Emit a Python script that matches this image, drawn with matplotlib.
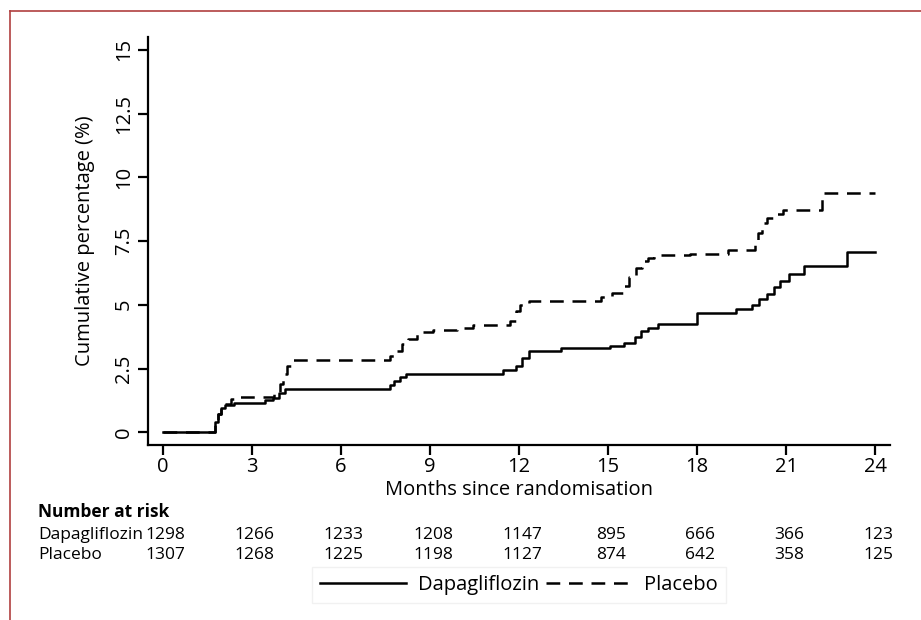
import matplotlib
matplotlib.use("Agg")
import matplotlib.pyplot as plt
from matplotlib.lines import Line2D
import matplotlib.transforms as mtransforms

plt.rcParams['font.family'] = ['Open Sans', 'DejaVu Sans']

# ---- data ----
dapa_t = [0, 1.75, 1.85, 1.95, 2.1, 2.4, 3.45, 3.7, 3.9, 4.1, 7.65, 7.8, 8.0, 8.2,
          11.45, 11.9, 12.1, 12.35, 13.4, 15.05, 15.55, 15.9, 16.1, 16.35, 16.7, 18.0,
          19.3, 19.85, 20.1, 20.35, 20.6, 20.8, 21.1, 21.6, 23.05, 24.0]
dapa_v = [0, 0.4, 0.7, 0.95, 1.05, 1.15, 1.25, 1.35, 1.55, 1.7, 1.85, 2.0, 2.15, 2.3,
          2.45, 2.6, 2.9, 3.18, 3.3, 3.4, 3.5, 3.72, 3.98, 4.1, 4.25, 4.66,
          4.83, 5.0, 5.22, 5.42, 5.7, 5.94, 6.22, 6.52, 7.05, 7.05]

plac_t = [0, 1.75, 1.85, 1.95, 2.1, 2.3, 2.5, 3.75, 3.95, 4.05, 4.2, 4.4, 7.65, 7.85,
          8.05, 8.25, 8.55, 9.1, 9.9, 10.45, 11.7, 11.9, 12.05, 12.35, 14.75, 15.15,
          15.5, 15.72, 15.95, 16.15, 16.35, 16.55, 17.75, 19.05, 19.95, 20.05, 20.2,
          20.35, 20.6, 20.9, 22.2, 24.0]
plac_v = [0, 0.4, 0.7, 0.95, 1.1, 1.3, 1.4, 1.5, 1.9, 2.3, 2.6, 2.84, 3.0, 3.2,
          3.45, 3.65, 3.92, 4.0, 4.1, 4.22, 4.35, 4.77, 5.0, 5.15, 5.29, 5.48,
          5.74, 6.07, 6.46, 6.72, 6.85, 6.95, 6.98, 7.13, 7.5, 7.8, 8.2,
          8.4, 8.55, 8.7, 9.4, 9.4]

x_ticks = [0, 3, 6, 9, 12, 15, 18, 21, 24]
y_ticks = [0, 2.5, 5, 7.5, 10, 12.5, 15]
y_tick_labels = ['0', '2.5', '5', '7.5', '10', '12.5', '15']

risk_groups = ['Dapagliflozin', 'Placebo']
risk_dapa = [1298, 1266, 1233, 1208, 1147, 895, 666, 366, 123]
risk_plac = [1307, 1268, 1225, 1198, 1127, 874, 642, 358, 125]

W, H = 921, 620
fig = plt.figure(figsize=(W / 100, H / 100), dpi=100)
ax = fig.add_axes([148 / W, 1 - 445 / H, (890 - 148) / W, (445 - 37) / H])

l1, = ax.plot(dapa_t, dapa_v, drawstyle='steps-post', color='black', lw=1.8)
l2, = ax.plot(plac_t, plac_v, drawstyle='steps-post', color='black', lw=1.8,
              linestyle=(0, (5.5, 3.5)))

ax.set_xlim(-0.5, 24.5)
ax.set_ylim(-0.5, 15.5)
ax.set_xticks(x_ticks)
ax.set_xticklabels([str(t) for t in x_ticks])
ax.set_yticks(y_ticks)
ax.set_yticklabels(y_tick_labels)
for lab in ax.get_yticklabels():
    lab.set_rotation(90)
    lab.set_va('center')
ax.spines['top'].set_visible(False)
ax.spines['right'].set_visible(False)
for s in ['left', 'bottom']:
    ax.spines[s].set_linewidth(1.6)
ax.tick_params(axis='both', length=7, width=1.6, labelsize=14.5, pad=1.5)
ax.tick_params(axis='y', pad=3)

fig.text(85 / W, 1 - 241 / H, 'Cumulative percentage (%)', rotation=90,
         ha='center', va='center', fontsize=14.5)
fig.text(519 / W, 1 - 490 / H, 'Months since randomisation', ha='center',
         va='center', fontsize=14.5)

fig.text(38 / W, 1 - 512 / H, 'Number at risk', ha='left', va='center',
         fontsize=12.5, fontweight='bold')
trans = mtransforms.blended_transform_factory(ax.transData, fig.transFigure)
for row_y, name, vals in [(535, risk_groups[0], risk_dapa), (555, risk_groups[1], risk_plac)]:
    fig.text(38 / W, 1 - row_y / H, name, ha='left', va='center', fontsize=12.5)
    for t, v in zip(x_ticks, vals):
        ax.text(t + 0.1, 1 - row_y / H, str(v), transform=trans, ha='center',
                va='center', fontsize=12.5, clip_on=False)

leg = fig.legend([l1, l2], ['Dapagliflozin', 'Placebo'], loc='center',
                 bbox_to_anchor=(519 / W, 1 - 585 / H), ncol=2, fontsize=14.5,
                 handlelength=4.3, handletextpad=0.6, columnspacing=0.3,
                 frameon=True, fancybox=False, edgecolor='#eeeeee')
leg.get_frame().set_linewidth(1.0)

# red page border
red = '#b04040'
fig.add_artist(Line2D([10 / W, 1.0], [1 - 11 / H, 1 - 11 / H], color=red, lw=1.2,
                      transform=fig.transFigure))
fig.add_artist(Line2D([10 / W, 10 / W], [1 - 11 / H, 0.0], color=red, lw=1.2,
                      transform=fig.transFigure))

fig.savefig('out.png', dpi=100)
